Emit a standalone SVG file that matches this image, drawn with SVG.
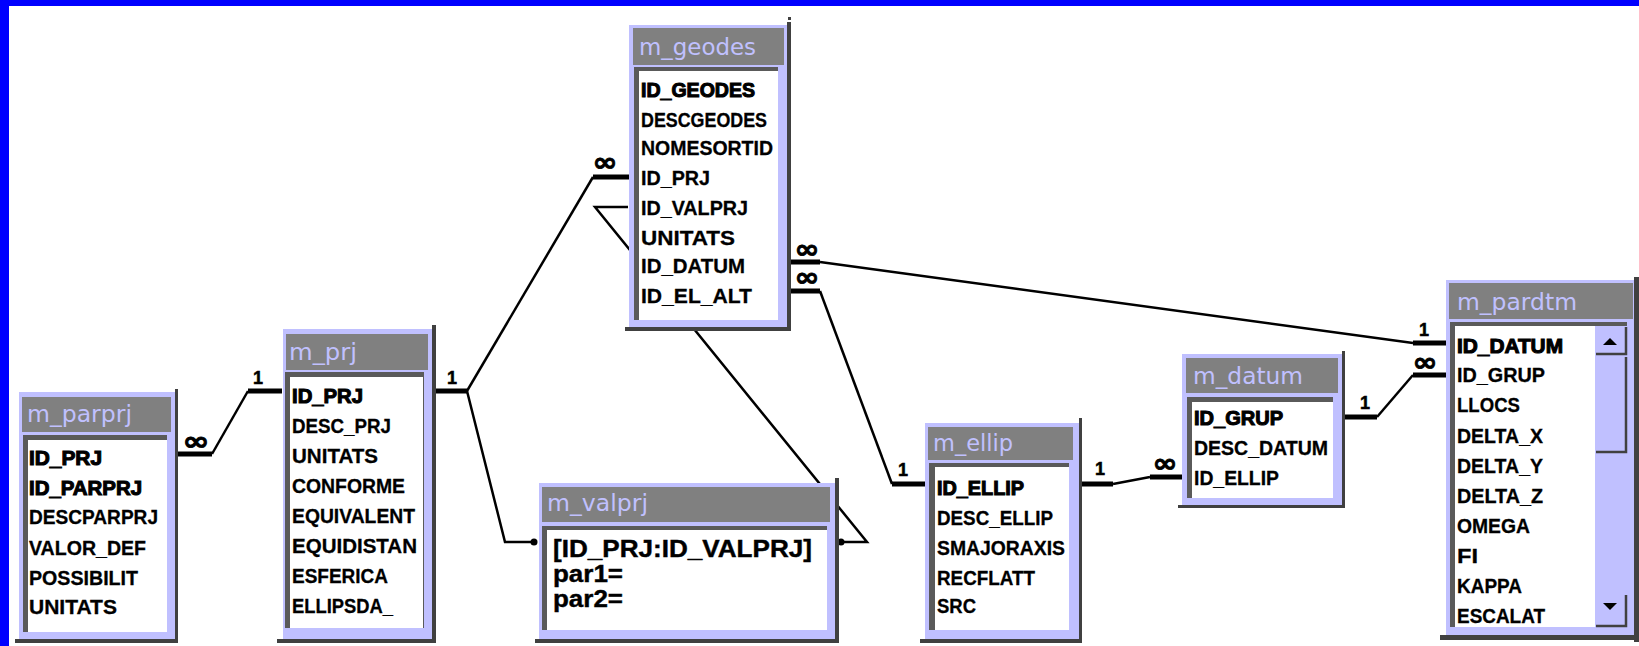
<svg xmlns="http://www.w3.org/2000/svg" width="1639" height="646" viewBox="0 0 1639 646">
<style>
.frame{fill:#c0c0ff}
.shadow{fill:#404040}
.title{fill:#808080}
.inner{fill:#5a5a5a}
.list{fill:#ffffff}
.ttl{font-family:"DejaVu Sans",Verdana,sans-serif;font-size:23px;fill:#c0c0ff}
.fld{font-family:"Liberation Sans",Arial,sans-serif;font-weight:bold;font-size:21px;fill:#000;stroke:#000;stroke-width:0.3}
.pk{stroke-width:1.1}
.vp{font-family:"Liberation Sans",Arial,sans-serif;font-weight:bold;font-size:23px;fill:#000;stroke:#000;stroke-width:0.4}
.ln{stroke:#000;stroke-width:2.5;fill:none}
.thick{stroke:#000;stroke-width:5;fill:none}
.one{font-family:"Liberation Sans",Arial,sans-serif;font-weight:bold;font-size:18px;fill:#000;stroke:#000;stroke-width:0.5;text-anchor:middle}
.inf{font-family:"DejaVu Sans",sans-serif;font-weight:bold;font-size:26px;fill:#000;stroke:#000;stroke-width:0.8;text-anchor:middle}
</style>
<rect x="0" y="0" width="1639" height="646" fill="#ffffff"/>
<rect x="0" y="0" width="1639" height="6" fill="#0000ff"/>
<rect x="0" y="0" width="9" height="646" fill="#0000ff"/>

<g id="connectors">
  <path class="ln" d="M628,207 H595 L867,542 H842"/>
  <path class="thick" d="M178,454 H212 M248,391 H282"/>
  <path class="ln" d="M212,454 L248,391"/>
  <path class="thick" d="M433,391 H467 M593,177 H630"/>
  <path class="ln" d="M467,391 L593,177"/>
  <path class="ln" d="M467,391 L505,542 H533"/>
  <circle cx="534" cy="542" r="3.5" fill="#000"/>
  <circle cx="841" cy="542" r="3.5" fill="#000"/>
  <path class="thick" d="M788,262 H820 M1413,343 H1447"/>
  <path class="ln" d="M820,262 L1413,343"/>
  <path class="thick" d="M788,291 H820 M892,484 H926"/>
  <path class="ln" d="M820,291 L892,484"/>
  <path class="thick" d="M1080,484 H1113 M1150,477 H1183"/>
  <path class="ln" d="M1113,484 L1150,477"/>
  <path class="thick" d="M1343,417 H1377 M1413,375 H1447"/>
  <path class="ln" d="M1377,417 L1413,375"/>
  <text class="inf" x="196" y="450" textLength="27" lengthAdjust="spacingAndGlyphs">∞</text>
  <text class="inf" x="605" y="171" textLength="25" lengthAdjust="spacingAndGlyphs">∞</text>
  <text class="inf" x="807" y="258" textLength="25" lengthAdjust="spacingAndGlyphs">∞</text>
  <text class="inf" x="807" y="286" textLength="25" lengthAdjust="spacingAndGlyphs">∞</text>
  <text class="inf" x="1165" y="472" textLength="25" lengthAdjust="spacingAndGlyphs">∞</text>
  <text class="inf" x="1425" y="371" textLength="25" lengthAdjust="spacingAndGlyphs">∞</text>
  <text class="one" x="258" y="384">1</text>
  <text class="one" x="452" y="384">1</text>
  <text class="one" x="1424" y="336">1</text>
  <text class="one" x="903" y="476">1</text>
  <text class="one" x="1100" y="475">1</text>
  <text class="one" x="1365" y="409">1</text>
</g>

<g id="m_parprj">
  <rect class="shadow" x="175" y="389" width="3" height="254"/>
  <rect class="shadow" x="15" y="639" width="163" height="4"/>
  <rect class="frame" x="19" y="392" width="156" height="247"/>
  <rect class="title" x="22" y="397" width="149" height="35"/>
  <text class="ttl" x="27" y="422" textLength="105" lengthAdjust="spacingAndGlyphs">m_parprj</text>
  <rect class="inner" x="23" y="435" width="144" height="197"/>
  <rect class="list" x="28" y="440" width="139" height="192"/>
  <text class="fld pk" x="29" y="465" textLength="73" lengthAdjust="spacingAndGlyphs">ID_PRJ</text>
  <text class="fld pk" x="29" y="495" textLength="113" lengthAdjust="spacingAndGlyphs">ID_PARPRJ</text>
  <text class="fld" x="29" y="524" textLength="129" lengthAdjust="spacingAndGlyphs">DESCPARPRJ</text>
  <text class="fld" x="29" y="555" textLength="117" lengthAdjust="spacingAndGlyphs">VALOR_DEF</text>
  <text class="fld" x="29" y="585" textLength="109" lengthAdjust="spacingAndGlyphs">POSSIBILIT</text>
  <text class="fld" x="29" y="614" textLength="88" lengthAdjust="spacingAndGlyphs">UNITATS</text>
</g>

<g id="m_prj">
  <rect class="shadow" x="432" y="325" width="4" height="318"/>
  <rect class="shadow" x="277" y="639" width="159" height="4"/>
  <rect class="frame" x="283" y="329" width="149" height="310"/>
  <rect class="title" x="286" y="334" width="142" height="36"/>
  <text class="ttl" x="289" y="360" textLength="68" lengthAdjust="spacingAndGlyphs">m_prj</text>
  <rect class="inner" x="285" y="372" width="139" height="256"/>
  <rect class="list" x="290" y="377" width="133" height="251"/>
  <text class="fld pk" x="292" y="403" textLength="71" lengthAdjust="spacingAndGlyphs">ID_PRJ</text>
  <text class="fld" x="292" y="433" textLength="99" lengthAdjust="spacingAndGlyphs">DESC_PRJ</text>
  <text class="fld" x="292" y="463" textLength="86" lengthAdjust="spacingAndGlyphs">UNITATS</text>
  <text class="fld" x="292" y="493" textLength="113" lengthAdjust="spacingAndGlyphs">CONFORME</text>
  <text class="fld" x="292" y="523" textLength="123" lengthAdjust="spacingAndGlyphs">EQUIVALENT</text>
  <text class="fld" x="292" y="553" textLength="125" lengthAdjust="spacingAndGlyphs">EQUIDISTAN</text>
  <text class="fld" x="292" y="583" textLength="96" lengthAdjust="spacingAndGlyphs">ESFERICA</text>
  <text class="fld" x="292" y="613" textLength="101" lengthAdjust="spacingAndGlyphs">ELLIPSDA_</text>
</g>

<g id="m_geodes">
  <rect class="shadow" x="788" y="17" width="3" height="3"/>
  <rect class="shadow" x="787" y="22" width="4" height="309"/>
  <rect class="shadow" x="625" y="327" width="166" height="4"/>
  <rect class="frame" x="629" y="25" width="158" height="302"/>
  <rect class="title" x="633" y="28" width="151" height="37"/>
  <text class="ttl" x="639" y="55" textLength="117" lengthAdjust="spacingAndGlyphs">m_geodes</text>
  <rect class="inner" x="634" y="67" width="144" height="253"/>
  <rect class="list" x="639" y="71" width="139" height="249"/>
  <text class="fld pk" x="641" y="97" textLength="114" lengthAdjust="spacingAndGlyphs">ID_GEODES</text>
  <text class="fld" x="641" y="127" textLength="126" lengthAdjust="spacingAndGlyphs">DESCGEODES</text>
  <text class="fld" x="641" y="155" textLength="132" lengthAdjust="spacingAndGlyphs">NOMESORTID</text>
  <text class="fld" x="641" y="185" textLength="69" lengthAdjust="spacingAndGlyphs">ID_PRJ</text>
  <text class="fld" x="641" y="215" textLength="107" lengthAdjust="spacingAndGlyphs">ID_VALPRJ</text>
  <text class="fld" x="641" y="245" textLength="94" lengthAdjust="spacingAndGlyphs">UNITATS</text>
  <text class="fld" x="641" y="273" textLength="104" lengthAdjust="spacingAndGlyphs">ID_DATUM</text>
  <text class="fld" x="641" y="303" textLength="111" lengthAdjust="spacingAndGlyphs">ID_EL_ALT</text>
</g>

<g id="m_valprj">
  <rect class="shadow" x="835" y="478" width="4" height="165"/>
  <rect class="shadow" x="535" y="639" width="304" height="4"/>
  <rect class="frame" x="539" y="483" width="296" height="156"/>
  <rect class="title" x="542" y="487" width="288" height="35"/>
  <text class="ttl" x="547" y="511" textLength="101" lengthAdjust="spacingAndGlyphs">m_valprj</text>
  <rect class="inner" x="542" y="526" width="285" height="104"/>
  <rect class="list" x="547" y="530" width="280" height="100"/>
  <text class="vp" x="553" y="557" textLength="259" lengthAdjust="spacingAndGlyphs">[ID_PRJ:ID_VALPRJ]</text>
  <text class="vp" x="553" y="582" textLength="70" lengthAdjust="spacingAndGlyphs">par1=</text>
  <text class="vp" x="553" y="607" textLength="70" lengthAdjust="spacingAndGlyphs">par2=</text>
</g>

<g id="m_ellip">
  <rect class="shadow" x="1079" y="418" width="3" height="225"/>
  <rect class="shadow" x="920" y="639" width="162" height="4"/>
  <rect class="frame" x="925" y="423" width="154" height="216"/>
  <rect class="title" x="928" y="427" width="145" height="33"/>
  <text class="ttl" x="933" y="451" textLength="80" lengthAdjust="spacingAndGlyphs">m_ellip</text>
  <rect class="inner" x="929" y="463" width="140" height="167"/>
  <rect class="list" x="935" y="467" width="134" height="163"/>
  <text class="fld pk" x="937" y="495" textLength="87" lengthAdjust="spacingAndGlyphs">ID_ELLIP</text>
  <text class="fld" x="937" y="525" textLength="116" lengthAdjust="spacingAndGlyphs">DESC_ELLIP</text>
  <text class="fld" x="937" y="555" textLength="128" lengthAdjust="spacingAndGlyphs">SMAJORAXIS</text>
  <text class="fld" x="937" y="585" textLength="98" lengthAdjust="spacingAndGlyphs">RECFLATT</text>
  <text class="fld" x="937" y="613" textLength="39" lengthAdjust="spacingAndGlyphs">SRC</text>
</g>

<g id="m_datum">
  <rect class="shadow" x="1342" y="351" width="3" height="157"/>
  <rect class="shadow" x="1178" y="505" width="167" height="3"/>
  <rect class="frame" x="1182" y="354" width="160" height="151"/>
  <rect class="title" x="1186" y="358" width="152" height="35"/>
  <text class="ttl" x="1193" y="384" textLength="110" lengthAdjust="spacingAndGlyphs">m_datum</text>
  <rect class="inner" x="1187" y="397" width="146" height="101"/>
  <rect class="list" x="1192" y="402" width="141" height="96"/>
  <text class="fld pk" x="1194" y="425" textLength="89" lengthAdjust="spacingAndGlyphs">ID_GRUP</text>
  <text class="fld" x="1194" y="455" textLength="134" lengthAdjust="spacingAndGlyphs">DESC_DATUM</text>
  <text class="fld" x="1194" y="485" textLength="85" lengthAdjust="spacingAndGlyphs">ID_ELLIP</text>
</g>

<g id="m_pardtm">
  <rect class="shadow" x="1634" y="277" width="5" height="365"/>
  <rect class="shadow" x="1440" y="635" width="199" height="5"/>
  <rect class="frame" x="1446" y="280" width="188" height="355"/>
  <rect class="title" x="1449" y="283" width="184" height="36"/>
  <text class="ttl" x="1457" y="310" textLength="120" lengthAdjust="spacingAndGlyphs">m_pardtm</text>
  <rect class="inner" x="1450" y="322" width="177" height="305"/>
  <rect class="list" x="1455" y="326" width="140" height="301"/>
  <rect x="1595" y="326" width="32" height="301" fill="#c0c0ff"/>
  <path d="M1596,354 H1626 V327" fill="none" stroke="#404040" stroke-width="2.5"/>
  <path d="M1610,338 L1617,345 H1603 Z" fill="#000"/>
  <path d="M1596,452 H1626 V357" fill="none" stroke="#404040" stroke-width="2.5"/>
  <path d="M1596,626 H1626 V595" fill="none" stroke="#404040" stroke-width="2.5"/>
  <path d="M1603,603 H1617 L1610,610 Z" fill="#000"/>
  <text class="fld pk" x="1457" y="353" textLength="106" lengthAdjust="spacingAndGlyphs">ID_DATUM</text>
  <text class="fld" x="1457" y="382" textLength="88" lengthAdjust="spacingAndGlyphs">ID_GRUP</text>
  <text class="fld" x="1457" y="412" textLength="63" lengthAdjust="spacingAndGlyphs">LLOCS</text>
  <text class="fld" x="1457" y="443" textLength="86" lengthAdjust="spacingAndGlyphs">DELTA_X</text>
  <text class="fld" x="1457" y="473" textLength="86" lengthAdjust="spacingAndGlyphs">DELTA_Y</text>
  <text class="fld" x="1457" y="503" textLength="86" lengthAdjust="spacingAndGlyphs">DELTA_Z</text>
  <text class="fld" x="1457" y="533" textLength="73" lengthAdjust="spacingAndGlyphs">OMEGA</text>
  <text class="fld" x="1457" y="563" textLength="21" lengthAdjust="spacingAndGlyphs">FI</text>
  <text class="fld" x="1457" y="593" textLength="65" lengthAdjust="spacingAndGlyphs">KAPPA</text>
  <text class="fld" x="1457" y="623" textLength="88" lengthAdjust="spacingAndGlyphs">ESCALAT</text>
</g>
</svg>
